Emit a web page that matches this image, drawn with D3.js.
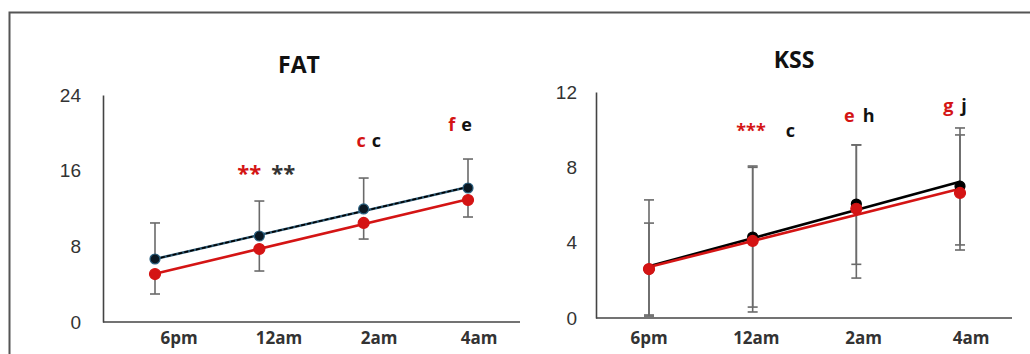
<!DOCTYPE html>
<html>
<head>
<meta charset="utf-8">
<script src="https://cdn.jsdelivr.net/npm/d3@7"></script>
<style>
  body { margin: 0; background: #fff; }
  svg { display: block; font-family: "Open Sans", "Liberation Sans", sans-serif; }
</style>
</head>
<body>
<div id="chart"></div>
<script>
// time points
const cats = ["6pm", "12am", "2am", "4am"];

// FAT panel
const fatTicks = [0, 8, 16, 24];
const fatBlack = [6.66, 9.09, 11.95, 14.17];
const fatBlackLow = [6.66, 9.09, 11.95, 14.17];   // only upper whisker
const fatBlackHigh = [10.47, 12.79, 15.22, 17.23];
const fatRed = [5.07, 7.72, 10.47, 12.9];
const fatRedLow = [2.96, 5.39, 8.77, 11.1];
const fatRedHigh = [5.07, 7.72, 10.47, 12.9];     // only lower whisker
const fatMarkRed = ["", "**", "c", "f"];
const fatMarkBlack = ["", "**", "c", "e"];
const fatMarkLevel = [0, 14.9, 18.5, 20.2];

// KSS panel
const kssTicks = [0, 4, 8, 12];
const kssBlack = [2.6, 4.3, 6.05, 7.0];
const kssBlackLow = [0.16, 0.58, 2.85, 3.88];
const kssBlackHigh = [5.04, 8.07, 9.19, 10.09];
const kssRed = [2.6, 4.09, 5.8, 6.64];
const kssRedLow = [0.1, 0.32, 2.12, 3.61];
const kssRedHigh = [6.27, 8.0, 9.19, 9.72];
const kssMarkRed = ["", "***", "e", "g"];
const kssMarkBlack = ["", "c", "h", "j"];
const kssMarkLevel = [0, 9.6, 10.4, 10.95];

const RED = "#d41414";
const GREY = "#6a6a6a";

const svg = d3.select("#chart").append("svg")
    .attr("width", 1030)
    .attr("height", 354);

// outer frame (top and left edges only)
svg.append("path")
    .attr("d", "M9.5,354V12.5H1030")
    .attr("fill", "none")
    .attr("stroke", "#555")
    .attr("stroke-width", 2);

// least squares trend line over the category index
function trend(vals) {
    const n = vals.length;
    const mx = (n - 1) / 2, my = d3.mean(vals);
    let sxy = 0, sxx = 0;
    vals.forEach((v, i) => { sxy += (i - mx) * (v - my); sxx += (i - mx) * (i - mx); });
    const b = sxy / sxx, a = my - b * mx;
    return [[0, a], [n - 1, a + b * (n - 1)]];
}

function panel(p) {
    const g = svg.append("g");
    const x = d3.scalePoint().domain(cats).range(p.xr);
    const xl = d3.scalePoint().domain(cats).range(p.labelRange);
    const y = d3.scaleLinear().domain(p.ydom).range(p.yr);

    g.append("text")
        .attr("x", p.titleX).attr("y", p.titleY)
        .attr("text-anchor", "middle")
        .attr("font-size", 23).attr("font-weight", "bold").attr("fill", "#111")
        .text(p.title);

    // axes
    const ya = g.append("g")
        .attr("transform", `translate(${p.axisX},0)`)
        .call(d3.axisLeft(y).tickValues(p.ticks).tickSize(0).tickPadding(p.tickPad));
    ya.select(".domain").attr("stroke", "#444").attr("stroke-width", 1.6);
    ya.selectAll("text").attr("font-size", 19).attr("fill", "#333")
        .attr("font-family", "'Liberation Sans', sans-serif");

    g.append("line")
        .attr("x1", p.axisX).attr("x2", p.xEnd)
        .attr("y1", y(0)).attr("y2", y(0))
        .attr("stroke", "#444").attr("stroke-width", 1.6);

    g.selectAll(".xl").data(cats).enter().append("text")
        .attr("x", d => xl(d)).attr("y", 344)
        .attr("text-anchor", "middle")
        .attr("font-size", 17).attr("font-weight", "bold").attr("fill", "#333")
        .text(d => d);

    // error bars
    p.series.forEach(s => {
        cats.forEach((c, i) => {
            [s.low[i], s.high[i]].forEach(b => {
                if (Math.abs(b - s.vals[i]) < 1e-9) return;
                g.append("line")
                    .attr("x1", x(c)).attr("x2", x(c))
                    .attr("y1", y(s.vals[i])).attr("y2", y(b))
                    .attr("stroke", GREY).attr("stroke-width", 1.6);
                g.append("line")
                    .attr("x1", x(c) - 5).attr("x2", x(c) + 5)
                    .attr("y1", y(b)).attr("y2", y(b))
                    .attr("stroke", GREY).attr("stroke-width", 1.6);
            });
        });
    });

    // trend lines
    const line = d3.line().x(d => x(cats[d[0]])).y(d => y(d[1]));
    p.series.forEach(s => {
        g.append("path").datum(trend(s.vals))
            .attr("d", line).attr("fill", "none")
            .attr("stroke", s.color).attr("stroke-width", 2.6);
        if (s.dash) {
            g.append("path").datum(trend(s.vals))
                .attr("d", line).attr("fill", "none")
                .attr("stroke", "#000").attr("stroke-width", 1.6)
                .attr("stroke-dasharray", "4,2");
        }
    });

    // markers
    p.series.forEach(s => {
        g.selectAll(null).data(s.vals).enter().append("circle")
            .attr("cx", (d, i) => x(cats[i])).attr("cy", d => y(d))
            .attr("r", s.r)
            .attr("fill", s.fill).attr("stroke", s.stroke).attr("stroke-width", 1.2);
    });

    // significance marks
    cats.forEach((c, i) => {
        if (!p.markRed[i] && !p.markBlack[i]) return;
        const t = g.append("text")
            .attr("x", x(c) + p.markDx[i]).attr("y", y(p.markLevel[i]))
            .attr("text-anchor", "middle")
            .attr("font-weight", "bold");
        t.append("tspan").attr("fill", RED)
            .attr("font-size", p.markRed[i].includes("*") ? p.starSize : 18)
            .text(p.markRed[i]);
        t.append("tspan").attr("fill", p.markBlack[i].includes("*") ? "#333" : "#111")
            .attr("font-size", p.markBlack[i].includes("*") ? p.starSize : 18)
            .attr("dx", p.markGap[i])
            .text(p.markBlack[i]);
    });
}

panel({
    title: "FAT", titleX: 299, titleY: 73,
    xr: [155, 468], labelRange: [179, 479],
    ydom: [0, 24], yr: [322, 95], ticks: fatTicks,
    axisX: 103, xEnd: 520, tickPad: 22,
    series: [
        { vals: fatRed, low: fatRedLow, high: fatRedHigh, color: RED, fill: RED, stroke: RED, r: 5.5 },
        { vals: fatBlack, low: fatBlackLow, high: fatBlackHigh, color: "#2a5670", fill: "#0b1822", stroke: "#2a6080", r: 5, dash: true }
    ],
    markRed: fatMarkRed, markBlack: fatMarkBlack, markLevel: fatMarkLevel,
    markDx: [0, 7, 5, -8], markGap: [0, 10, 6, 6], starSize: 22
});

panel({
    title: "KSS", titleX: 794, titleY: 68,
    xr: [649, 960], labelRange: [649, 971],
    ydom: [0, 12], yr: [318, 92], ticks: kssTicks,
    axisX: 596, xEnd: 1012, tickPad: 19,
    series: [
        { vals: kssBlack, low: kssBlackLow, high: kssBlackHigh, color: "#000", fill: "#000", stroke: "#000", r: 5 },
        { vals: kssRed, low: kssRedLow, high: kssRedHigh, color: RED, fill: RED, stroke: RED, r: 5.5 }
    ],
    markRed: kssMarkRed, markBlack: kssMarkBlack, markLevel: kssMarkLevel,
    markDx: [0, 13, 3, -5], markGap: [0, 20, 8, 8], starSize: 18
});
</script>
</body>
</html>
